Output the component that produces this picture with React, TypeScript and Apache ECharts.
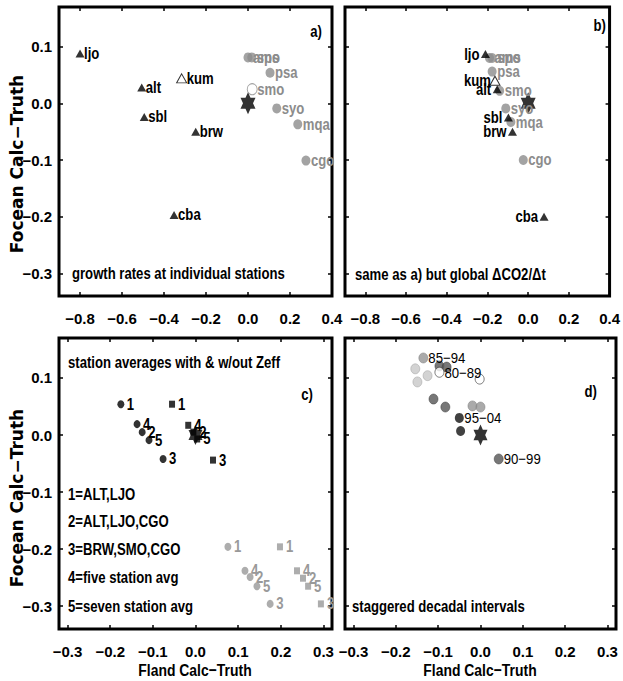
import React, { useEffect, useRef } from 'react';
import * as echarts from 'echarts';

const FONT = '"Liberation Sans", Arial, sans-serif';
const WIDE = '"DejaVu Sans", "Liberation Sans", sans-serif';
const NARROW = 0.82;

// ---------- tick values ----------
const xTicksTop = [-0.8, -0.6, -0.4, -0.2, 0, 0.2, 0.4];
const xTicksBottom = [-0.3, -0.2, -0.1, 0, 0.1, 0.2, 0.3];
const yTicks = [-0.3, -0.2, -0.1, 0, 0.1];

// ---------- panel a ----------
const aTriNames = ['ljo', 'alt', 'sbl', 'brw', 'cba'];
const aTriX = [-0.8, -0.506, -0.494, -0.249, -0.352];
const aTriY = [0.088, 0.028, -0.024, -0.05, -0.197];
const aOpenTriNames = ['kum'];
const aOpenTriX = [-0.316];
const aOpenTriY = [0.044];
const aCircNames = ['ams', 'spo', 'psa', 'syo', 'mqa', 'cgo'];
const aCircX = [0.0, 0.018, 0.105, 0.137, 0.237, 0.276];
const aCircY = [0.081, 0.081, 0.054, -0.009, -0.037, -0.101];
const aOpenCircNames = ['smo'];
const aOpenCircX = [0.02];
const aOpenCircY = [0.025];

// ---------- panel b ----------
const bTriNames = ['ljo', 'alt', 'sbl', 'brw', 'cba'];
const bTriX = [-0.21, -0.152, -0.097, -0.077, 0.078];
const bTriY = [0.087, 0.025, -0.025, -0.05, -0.2];
const bOpenTriNames = ['kum'];
const bOpenTriX = [-0.163];
const bOpenTriY = [0.04];
const bCircNames = ['ams', 'spo', 'psa', 'smo', 'syo', 'mqa', 'cgo'];
const bCircX = [-0.19, -0.177, -0.177, -0.14, -0.11, -0.085, -0.024];
const bCircY = [0.08, 0.08, 0.056, 0.022, -0.009, -0.033, -0.1];

// ---------- panel c ----------
const cNames = ['1', '2', '3', '4', '5'];
const cBlackCircX = [-0.175, -0.125, -0.076, -0.137, -0.109];
const cBlackCircY = [0.054, 0.005, -0.042, 0.019, -0.009];
const cBlackSqX = [-0.055, -0.005, 0.041, -0.017, 0.004];
const cBlackSqY = [0.054, 0.005, -0.044, 0.017, -0.007];
const cGrayCircX = [0.076, 0.128, 0.175, 0.116, 0.144];
const cGrayCircY = [-0.196, -0.249, -0.296, -0.238, -0.265];
const cGraySqX = [0.198, 0.252, 0.294, 0.238, 0.264];
const cGraySqY = [-0.196, -0.251, -0.296, -0.238, -0.265];
const cLegend = ['1=ALT,LJO', '2=ALT,LJO,CGO', '3=BRW,SMO,CGO', '4=five station avg', '5=seven station avg'];

// ---------- panel d ----------
const dLightX = [-0.154, -0.125, -0.149];
const dLightY = [0.116, 0.104, 0.093];
const dDarkNames = ['', '', '', '', '90\u221299'];
const dDarkX = [-0.097, -0.08, -0.111, -0.083, 0.043];
const dDarkY = [0.121, 0.119, 0.063, 0.049, -0.042];
const dMedNames = ['85\u221294', '', ''];
const dMedX = [-0.135, -0.019, 0.0];
const dMedY = [0.135, 0.051, 0.049];
const dOpenNames = ['80\u221289', ''];
const dOpenX = [-0.097, -0.002];
const dOpenY = [0.11, 0.098];
const dBlackNames = ['95\u221204', ''];
const dBlackX = [-0.05, -0.047];
const dBlackY = [0.03, 0.007];

const STAR = 'path://M0,-10L2.887,-5L8.66,-5L5.774,0L8.66,5L2.887,5L0,10L-2.887,5L-8.66,5L-5.774,0L-8.66,-5L-2.887,-5Z';

const fmt = (v: number) => {
  const s = Math.abs(v).toFixed(1);
  return v < -1e-9 ? '\u2212' + s : s;
};

function axesFor(g: number, min: number, max: number, xt: number[], showY: boolean) {
  const tick = { show: true, inside: true, length: 4, lineStyle: { color: '#000', width: 1.5 } };
  const line = { show: false, onZero: false };
  const lab = { fontFamily: FONT, fontWeight: 'bold', fontSize: 15, color: '#000', formatter: fmt };
  const xs = [
    { type: 'value', gridIndex: g, min, max, position: 'bottom', axisLine: line,
      axisTick: { ...tick, customValues: xt }, axisLabel: { ...lab, customValues: xt, margin: 15 }, splitLine: { show: false } },
    { type: 'value', gridIndex: g, min, max, position: 'top', axisLine: line,
      axisTick: { ...tick, customValues: xt }, axisLabel: { show: false }, splitLine: { show: false } },
  ];
  const ys = [
    { type: 'value', gridIndex: g, min: -0.34, max: 0.17, position: 'left', axisLine: line,
      axisTick: { ...tick, customValues: yTicks },
      axisLabel: showY ? { ...lab, customValues: yTicks, margin: 7 } : { show: false }, splitLine: { show: false } },
    { type: 'value', gridIndex: g, min: -0.34, max: 0.17, position: 'right', axisLine: line,
      axisTick: { ...tick, customValues: yTicks }, axisLabel: { show: false }, splitLine: { show: false } },
  ];
  return { xs, ys };
}

function sc(g: number, xs: number[], ys: number[], o: any) {
  return {
    type: 'scatter',
    xAxisIndex: g * 2,
    yAxisIndex: g * 2,
    data: xs.map((x, i) => [x, ys[i]]),
    symbol: o.symbol,
    symbolSize: o.size,
    itemStyle: o.item,
    z: o.z || 2,
  };
}

const GRAY = '#8c8c8c';
const GRAYC = '#999';

type LabelSpec = { g: number; xs: number[]; ys: number[]; names: string[]; side: 'left' | 'right'; dx: number; color: string; weight?: string; size?: number; sx?: number };

const labelSpecs: LabelSpec[] = [
  { g: 0, xs: aTriX, ys: aTriY, names: aTriNames, side: 'right', dx: 4, color: '#000' },
  { g: 0, xs: aOpenTriX, ys: aOpenTriY, names: aOpenTriNames, side: 'right', dx: 5, color: '#000' },
  { g: 0, xs: aCircX, ys: aCircY, names: aCircNames, side: 'right', dx: 5, color: GRAY },
  { g: 0, xs: aOpenCircX, ys: aOpenCircY, names: aOpenCircNames, side: 'right', dx: 5, color: GRAY },
  { g: 1, xs: bCircX, ys: bCircY, names: bCircNames, side: 'right', dx: 5, color: GRAY },
  { g: 1, xs: bOpenTriX, ys: bOpenTriY, names: bOpenTriNames, side: 'left', dx: 4, color: '#000' },
  { g: 1, xs: bTriX, ys: bTriY, names: bTriNames, side: 'left', dx: 6, color: '#000' },
  { g: 2, xs: cBlackCircX, ys: cBlackCircY, names: cNames, side: 'right', dx: 6, color: '#000' },
  { g: 2, xs: cBlackSqX, ys: cBlackSqY, names: cNames, side: 'right', dx: 6, color: '#000' },
  { g: 2, xs: cGrayCircX, ys: cGrayCircY, names: cNames, side: 'right', dx: 6, color: GRAYC },
  { g: 2, xs: cGraySqX, ys: cGraySqY, names: cNames, side: 'right', dx: 6, color: GRAYC },
  { g: 3, xs: dMedX, ys: dMedY, names: dMedNames, side: 'right', dx: 5, color: '#000', weight: 'normal', size: 15, sx: 0.88 },
  { g: 3, xs: dDarkX, ys: dDarkY, names: dDarkNames, side: 'right', dx: 5, color: '#000', weight: 'normal', size: 15, sx: 0.88 },
  { g: 3, xs: dOpenX, ys: dOpenY, names: dOpenNames, side: 'right', dx: 5, color: '#000', weight: 'normal', size: 15, sx: 0.88 },
  { g: 3, xs: dBlackX, ys: dBlackY, names: dBlackNames, side: 'right', dx: 5, color: '#000', weight: 'normal', size: 15, sx: 0.88 },
];

export default function App() {
  const ref = useRef<HTMLDivElement>(null);
  useEffect(() => {
    if (!ref.current) return;
    const chart = echarts.init(ref.current, null, { renderer: 'svg' });
    const grids = [
      { left: 59, top: 7, width: 273, height: 289 },
      { left: 345, top: 7, width: 271, height: 289 },
      { left: 59, top: 338, width: 273, height: 291 },
      { left: 345, top: 338, width: 271, height: 291 },
    ].map((g) => ({ ...g, show: true, borderColor: '#000', borderWidth: 3, backgroundColor: 'transparent' }));
    const A = axesFor(0, -0.9, 0.4, xTicksTop, true);
    const B = axesFor(1, -0.9, 0.4, xTicksTop, false);
    const C = axesFor(2, -0.32, 0.32, xTicksBottom, true);
    const D = axesFor(3, -0.32, 0.32, xTicksBottom, false);
    const tri = { symbol: 'triangle', size: [9, 8], item: { color: '#000' } };
    const openTri = { symbol: 'triangle', size: [10, 9], item: { color: '#fff', borderColor: '#000', borderWidth: 1 } };
    const grayC = { symbol: 'circle', size: [9, 10], item: { color: GRAY } };
    const star = { symbol: STAR, size: [15, 22], item: { color: '#000' }, z: 5 };
    const dItem = (c: string, b: string, w = 0.6) => ({ color: c, borderColor: b, borderWidth: w });
    const series: any[] = [
      // a
      sc(0, aTriX, aTriY, tri),
      sc(0, aOpenTriX, aOpenTriY, openTri),
      sc(0, aCircX, aCircY, grayC),
      sc(0, aOpenCircX, aOpenCircY, { symbol: 'circle', size: [10, 11], item: { color: '#fff', borderColor: GRAY, borderWidth: 1 } }),
      sc(0, [0], [0], star),
      // b
      sc(1, bCircX, bCircY, grayC),
      sc(1, bOpenTriX, bOpenTriY, openTri),
      sc(1, bTriX, bTriY, tri),
      sc(1, [0], [0], star),
      // c
      sc(2, cBlackCircX, cBlackCircY, { symbol: 'circle', size: [7, 8], item: { color: '#000' } }),
      sc(2, cBlackSqX, cBlackSqY, { symbol: 'rect', size: [6, 7], item: { color: '#000' } }),
      sc(2, cGrayCircX, cGrayCircY, { symbol: 'circle', size: [7, 8], item: { color: GRAYC } }),
      sc(2, cGraySqX, cGraySqY, { symbol: 'rect', size: [6, 7], item: { color: GRAYC } }),
      sc(2, [0], [0], { ...star, size: [14, 20] }),
      // d
      sc(3, dLightX, dLightY, { symbol: 'circle', size: [9, 10], item: dItem('#c8c8c8', '#9a9a9a') }),
      sc(3, dMedX, dMedY, { symbol: 'circle', size: [9, 10], item: dItem('#959595', '#777') }),
      sc(3, dDarkX, dDarkY, { symbol: 'circle', size: [9, 10], item: dItem('#555', '#333') }),
      sc(3, dOpenX, dOpenY, { symbol: 'circle', size: [9, 10], item: dItem('#fff', '#333', 0.8) }),
      sc(3, dBlackX, dBlackY, { symbol: 'circle', size: [9, 10], item: { color: '#111' } }),
      sc(3, [0], [0], { ...star, size: [14, 21] }),
    ];
    const t = (text: string, x: number, y: number, extra: any = {}, sx = NARROW) => ({
      type: 'text', x, y, z: 10, scaleX: sx,
      style: { text, fontFamily: FONT, fontWeight: 'bold', fontSize: 16, fill: '#000', align: 'left', verticalAlign: 'middle', ...extra },
    });
    const graphic: any[] = [
      t('a)', 322, 32, { align: 'right' }),
      t('b)', 606, 26, { align: 'right' }),
      t('c)', 313, 395, { align: 'right' }),
      t('d)', 597, 392, { align: 'right' }),
      t('growth rates at individual stations', 72, 274),
      t('same as a) but global \u0394CO2/\u0394t', 355, 275),
      t('station averages with & w/out Zeff', 68, 363),
      t('staggered decadal intervals', 352, 607),
      ...cLegend.map((s, i) => t(s, 68, [495, 522, 550, 578, 607][i])),
      t('Fland Calc\u2212Truth', 195, 670, { align: 'center', fontSize: 17 }),
      t('Fland Calc\u2212Truth', 480, 670, { align: 'center', fontSize: 17 }),
      { type: 'text', x: 17, y: 164, rotation: Math.PI / 2, z: 10,
        style: { text: 'Focean Calc\u2212Truth', fontFamily: WIDE, fontWeight: 'bold', fontSize: 17, fill: '#000', align: 'center', verticalAlign: 'middle' } },
      { type: 'text', x: 17, y: 498, rotation: Math.PI / 2, z: 10,
        style: { text: 'Focean Calc\u2212Truth', fontFamily: WIDE, fontWeight: 'bold', fontSize: 17, fill: '#000', align: 'center', verticalAlign: 'middle' } },
    ];
    chart.setOption({
      animation: false,
      backgroundColor: '#fff',
      grid: grids,
      xAxis: [...A.xs, ...B.xs, ...C.xs, ...D.xs],
      yAxis: [...A.ys, ...B.ys, ...C.ys, ...D.ys],
      series,
      graphic,
    });
    // point labels, placed through the axes' own scales
    const labels: any[] = [];
    labelSpecs.forEach((s) => {
      s.names.forEach((name, i) => {
        if (!name) return;
        const p = chart.convertToPixel({ xAxisIndex: s.g * 2, yAxisIndex: s.g * 2 }, [s.xs[i], s.ys[i]]) as number[];
        if (!p) return;
        const right = s.side === 'right';
        labels.push({
          type: 'text', x: p[0] + (right ? s.dx : -s.dx), y: p[1], z: 9, scaleX: s.sx ?? NARROW,
          style: { text: name, fontFamily: FONT, fontWeight: s.weight || 'bold', fontSize: s.size || 16, fill: s.color,
            align: right ? 'left' : 'right', verticalAlign: 'middle' },
        });
      });
    });
    chart.setOption({ graphic: [...graphic, ...labels] });
    return () => chart.dispose();
  }, []);
  return <div ref={ref} style={{ position: 'absolute', left: 0, top: 0, width: 623, height: 681, background: '#fff' }} />;
}
